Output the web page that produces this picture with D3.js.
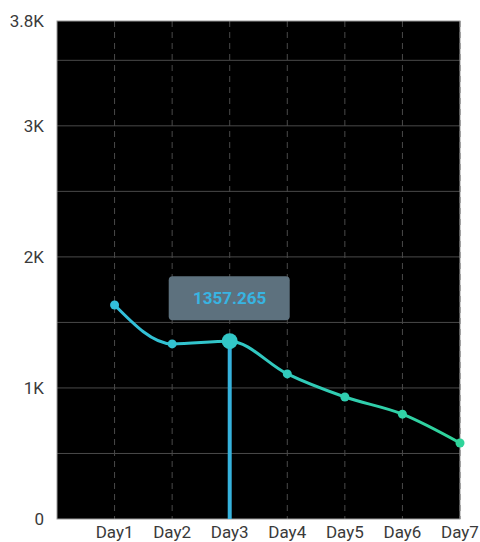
<!DOCTYPE html>
<html>
<head>
<meta charset="utf-8">
<script src="https://cdn.jsdelivr.net/npm/d3@7"></script>
<style>
  body { margin: 0; background: #fff; }
  text { font-family: Roboto, "Noto Sans", sans-serif; }
</style>
</head>
<body>
<div id="vizcontainer"></div>
<script>
const width = 480,
  height = 542;

const days = ['Day1', 'Day2', 'Day3', 'Day4', 'Day5', 'Day6', 'Day7'];
const values = [1633, 1336, 1357.265, 1107, 931, 800, 580];
const yTicks = [0, 1000, 2000, 3000, 3800];
const yTickLabels = ['0', '1K', '2K', '3K', '3.8K'];
const gridTicks = [500, 1000, 1500, 2000, 2500, 3000, 3500];
const selected = 2; // Day3

const plotLeft = 57, plotRight = 460, plotTop = 21, plotBottom = 519;

const x = d3.scaleLinear().domain([0, days.length]).range([plotLeft, plotRight]);
const y = d3.scaleLinear().domain([0, 3800]).range([plotBottom, plotTop]);

const data = days.map((d, i) => ({ day: d, i: i + 1, v: values[i] }));

let viz = d3.select('#vizcontainer')
  .append('svg')
  .attr('width', width)
  .attr('height', height);

const defs = viz.append('defs');
const grad = defs.append('linearGradient')
  .attr('id', 'lineGrad')
  .attr('gradientUnits', 'userSpaceOnUse')
  .attr('x1', x(1)).attr('x2', x(7))
  .attr('y1', 0).attr('y2', 0);
grad.append('stop').attr('offset', '0%').attr('stop-color', '#33bfdc');
grad.append('stop').attr('offset', '100%').attr('stop-color', '#2fd49a');

// plot background
viz.append('rect')
  .attr('x', plotLeft).attr('y', plotTop)
  .attr('width', plotRight - plotLeft).attr('height', plotBottom - plotTop)
  .attr('fill', '#000');

// horizontal grid
viz.append('g')
  .selectAll('line')
  .data(gridTicks)
  .join('line')
  .attr('x1', plotLeft).attr('x2', plotRight)
  .attr('y1', d => y(d)).attr('y2', d => y(d))
  .attr('stroke', '#4a4a4a')
  .attr('stroke-width', 1);

// vertical dashed grid
viz.append('g')
  .selectAll('line')
  .data(data)
  .join('line')
  .attr('x1', d => x(d.i)).attr('x2', d => x(d.i))
  .attr('y1', plotTop).attr('y2', plotBottom)
  .attr('stroke', '#4a4a4a')
  .attr('stroke-width', 1)
  .attr('stroke-dasharray', '6,5');

// border
viz.append('rect')
  .attr('x', plotLeft).attr('y', plotTop)
  .attr('width', plotRight - plotLeft).attr('height', plotBottom - plotTop)
  .attr('fill', 'none')
  .attr('stroke', '#9a9a9a')
  .attr('stroke-width', 1);

// y labels
viz.append('g')
  .selectAll('text')
  .data(yTicks)
  .join('text')
  .attr('x', 44)
  .attr('y', d => y(d))
  .attr('dy', '0.35em')
  .attr('text-anchor', 'end')
  .attr('font-size', 17)
  .attr('fill', '#3a3a3a')
  .text((d, i) => yTickLabels[i]);

// x labels
viz.append('g')
  .selectAll('text')
  .data(data)
  .join('text')
  .attr('x', d => x(d.i))
  .attr('y', 538)
  .attr('text-anchor', 'middle')
  .attr('font-size', 17)
  .attr('fill', '#3a3a3a')
  .text(d => d.day);

// selection line
const sel = data[selected];
viz.append('line')
  .attr('x1', x(sel.i)).attr('x2', x(sel.i))
  .attr('y1', y(sel.v)).attr('y2', plotBottom)
  .attr('stroke', '#36b2dc')
  .attr('stroke-width', 4);

// series line
const line = d3.line()
  .x(d => x(d.i))
  .y(d => y(d.v))
  .curve(d3.curveMonotoneX);

viz.append('path')
  .datum(data)
  .attr('d', line)
  .attr('fill', 'none')
  .attr('stroke', 'url(#lineGrad)')
  .attr('stroke-width', 3);

const color = d3.interpolateRgb('#33bfdc', '#2fd49a');

viz.append('g')
  .selectAll('circle')
  .data(data)
  .join('circle')
  .attr('cx', d => x(d.i))
  .attr('cy', d => y(d.v))
  .attr('r', d => d.i - 1 === selected ? 8 : 4.5)
  .attr('fill', d => color((d.i - 1) / 6));

// tooltip
const tip = viz.append('g')
  .attr('transform', `translate(${x(sel.i)},${y(sel.v) - 43})`);
tip.append('rect')
  .attr('x', -61).attr('y', -22)
  .attr('width', 121).attr('height', 44)
  .attr('rx', 4)
  .attr('fill', '#5d717e');
tip.append('text')
  .attr('text-anchor', 'middle')
  .attr('dy', '0.35em')
  .attr('font-size', 17)
  .attr('font-weight', 'bold')
  .attr('fill', '#38b4e2')
  .text(sel.v);
</script>
</body>
</html>
